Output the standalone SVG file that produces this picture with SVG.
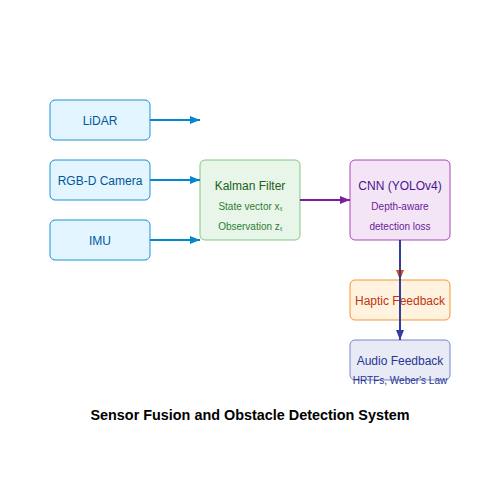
<svg xmlns="http://www.w3.org/2000/svg" width="500" height="500" viewBox="0 0 500 500">
<defs>
<style>
text{font-family:"Liberation Sans",Arial,sans-serif;text-anchor:middle}
.s{fill:#e1f5fe;stroke:#0288d1;stroke-width:1;opacity:0.9}
.st{fill:#01579b;font-size:12px}
.sm{font-size:10px}
</style>
<marker id="ab" markerWidth="10" markerHeight="8" refX="10" refY="4" orient="auto" markerUnits="userSpaceOnUse"><path d="M0,0L10,4L0,8Z" fill="#0288d1"/></marker>
<marker id="ap" markerWidth="10" markerHeight="8" refX="10" refY="4" orient="auto" markerUnits="userSpaceOnUse"><path d="M0,0L10,4L0,8Z" fill="#7b1fa2"/></marker>
<marker id="ao" markerWidth="10" markerHeight="8" refX="10" refY="4" orient="auto" markerUnits="userSpaceOnUse"><path d="M0,0L10,4L0,8Z" fill="#e65100"/></marker>
<marker id="ai" markerWidth="10" markerHeight="8" refX="10" refY="4" orient="auto" markerUnits="userSpaceOnUse"><path d="M0,0L10,4L0,8Z" fill="#303f9f"/></marker>
</defs>
<rect width="500" height="500" fill="#fff"/>
<g id="lidar"><rect class="s" x="50" y="100" width="100" height="40" rx="5"/><text class="st" x="100" y="125">LiDAR</text></g>
<g id="rgbd"><rect class="s" x="50" y="160" width="100" height="40" rx="5"/><text class="st" x="100" y="185">RGB-D Camera</text></g>
<g id="imu"><rect class="s" x="50" y="220" width="100" height="40" rx="5"/><text class="st" x="100" y="245">IMU</text></g>
<g id="kalman"><rect x="200" y="160" width="100" height="80" rx="5" fill="#e8f5e9" stroke="#81c784"/><text x="250" y="190" fill="#1b5e20" font-size="12">Kalman Filter</text><text x="250" y="210" fill="#2e7d32" class="sm">State vector xₜ</text><text x="250" y="230" fill="#2e7d32" class="sm">Observation zₜ</text></g>
<g id="cnn"><rect x="350" y="160" width="100" height="80" rx="5" fill="#f3e5f5" stroke="#ab47bc"/><text x="400" y="190" fill="#4a148c" font-size="12">CNN (YOLOv4)</text><text x="400" y="210" fill="#6a1b9a" class="sm">Depth-aware</text><text x="400" y="230" fill="#6a1b9a" class="sm">detection loss</text></g>
<g id="haptic"><rect x="350" y="280" width="100" height="40" rx="5" fill="#fff3e0" stroke="#f57c00" stroke-opacity="0.8"/><text x="400" y="305" fill="#bf360c" font-size="12">Haptic Feedback</text></g>
<g id="audio"><rect x="350" y="340" width="100" height="40" rx="5" fill="#e8eaf6" stroke="#7986cb"/><text x="400" y="365" fill="#283593" font-size="12">Audio Feedback</text><text x="400" y="384" fill="#283593" class="sm">HRTFs, Weber's Law</text></g>
<g id="connectors" fill="none" stroke-width="2">
<line x1="150" y1="120" x2="200" y2="120" stroke="#0288d1" marker-end="url(#ab)"/>
<line x1="150" y1="180" x2="200" y2="180" stroke="#0288d1" marker-end="url(#ab)"/>
<line x1="150" y1="240" x2="200" y2="240" stroke="#0288d1" marker-end="url(#ab)"/>
<line x1="300" y1="200" x2="350" y2="200" stroke="#7b1fa2" marker-end="url(#ap)"/>
<line x1="400" y1="240" x2="400" y2="280" stroke="#e65100" marker-end="url(#ao)"/>
<line x1="400" y1="240" x2="400" y2="340" stroke="#303f9f" marker-end="url(#ai)"/>
</g>
<text x="250" y="420" font-size="14.4" font-weight="bold" fill="#000">Sensor Fusion and Obstacle Detection System</text>
</svg>
